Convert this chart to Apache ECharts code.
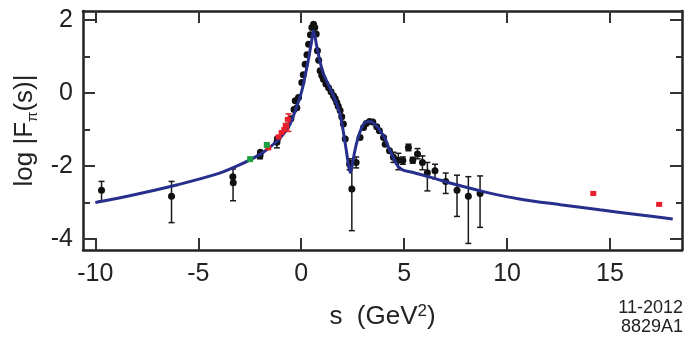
<!DOCTYPE html>
<html>
<head>
<meta charset="utf-8">
<script src="https://cdn.jsdelivr.net/npm/echarts/dist/echarts.min.js"></script>
<style>
  html, body { margin: 0; padding: 0; background: #fff; }
  #chart { width: 687px; height: 346px; }
</style>
</head>
<body>
<div id="chart"></div>
<script>
// tick values
var xTicks = [-10, -5, 0, 5, 10, 15];
var yMajor = [-4, -2, 0, 2];
var yMinor = [-3, -1, 1];

// model curve [s, log|F|]
var curve = [
  [-10, -3.0], [-8, -2.77], [-6, -2.51], [-4, -2.2], [-3, -1.97], [-2, -1.68],
  [-1.5, -1.47], [-1, -1.22], [-0.55, -0.86], [-0.3, -0.5], [0, 0.0], [0.2, 0.5],
  [0.36, 0.95], [0.5, 1.4], [0.6, 1.7], [0.75, 1.3], [0.92, 0.85], [1.1, 0.5],
  [1.33, 0.22], [1.55, -0.05], [1.73, -0.3], [1.9, -0.62], [2.0, -0.9], [2.1, -1.25],
  [2.2, -1.6], [2.3, -1.98], [2.38, -2.17], [2.47, -2.0], [2.6, -1.6], [2.75, -1.25],
  [2.9, -1.0], [3.05, -0.84], [3.25, -0.78], [3.45, -0.8], [3.65, -0.9], [3.85, -1.04],
  [4.05, -1.22], [4.25, -1.49], [4.5, -1.8], [4.72, -2.02], [4.95, -2.11], [5.4, -2.17],
  [6.3, -2.31], [7.6, -2.52], [9, -2.72], [10.6, -2.9], [12.6, -3.06], [14.5, -3.2],
  [16.5, -3.34], [18.05, -3.45]
];

// black data points [s, log|F|]
var blackPts = [
  [-9.7, -2.66], [-6.3, -2.83], [-3.32, -2.29], [-3.3, -2.46],
  [-2.0, -1.72], [-1.98, -1.62], [-1.18, -1.35], [-1.15, -1.25], [-0.7, -0.9],
  [-0.5, -0.7], [-0.35, -0.45], [-0.29, -0.21], [-0.21, -0.4], [-0.13, -0.12],
  [0.03, 0.29], [0.1, 0.5], [0.19, 0.79], [0.28, 1.05], [0.36, 1.34], [0.45, 1.6],
  [0.52, 1.8], [0.6, 1.89], [0.66, 1.8], [0.73, 1.62], [0.79, 1.16], [0.85, 0.9],
  [0.92, 0.61], [1.0, 0.48], [1.08, 0.38], [1.2, 0.25], [1.33, 0.15], [1.45, 0.04],
  [1.57, -0.07], [1.65, -0.15], [1.73, -0.26], [1.8, -0.36], [1.89, -0.48], [1.97, -0.65],
  [2.05, -0.85], [2.14, -1.26], [2.35, -1.95], [2.46, -2.63], [2.67, -1.9], [2.86, -1.22],
  [3.03, -0.94], [3.16, -0.83], [3.32, -0.78], [3.48, -0.79], [3.67, -0.92], [3.8, -1.03],
  [4.0, -1.22], [4.08, -1.4], [4.29, -1.58], [4.48, -1.76], [4.72, -1.84], [4.94, -1.85],
  [5.21, -1.49], [5.42, -1.84], [5.65, -1.67], [5.89, -1.9], [6.13, -2.18], [6.5, -2.13],
  [7.02, -2.42], [7.57, -2.66], [8.12, -2.83], [8.69, -2.75]
];

// error bars [s, low, high]
var blackErr = [
  [-9.7, -2.95, -2.42], [-6.3, -3.55, -2.42], [-3.31, -2.95, -2.08],
  [-2.0, -1.8, -1.6], [-1.18, -1.5, -1.22],
  [2.35, -2.1, -1.8], [2.46, -3.77, -1.85], [2.67, -2.05, -1.75],
  [4.48, -1.9, -1.62], [4.72, -2.1, -1.65], [4.94, -1.95, -1.75], [5.21, -1.58, -1.4],
  [5.42, -1.92, -1.76], [5.65, -1.8, -1.52], [5.89, -2.1, -1.72], [6.13, -2.68, -1.9],
  [6.5, -2.35, -1.95], [7.02, -2.75, -2.19], [7.57, -3.38, -2.25], [8.12, -4.12, -2.29],
  [8.69, -3.68, -2.27]
];

var redPts = [
  [-1.6, -1.5], [-1.1, -1.2], [-0.95, -1.08], [-0.82, -1.0], [-0.75, -0.88], [-0.65, -0.72],
  [14.19, -2.75], [17.39, -3.05]
];
var redErr = [[-0.62, -1.05, -0.57]];
var greenPts = [[-2.48, -1.81], [-1.67, -1.42]];

var font = "'Liberation Sans', Arial, Helvetica, sans-serif";
var axisColor = '#222';

function errorBars(color) {
  return function (params, api) {
    var top = api.coord([api.value(0), api.value(2)]);
    var bot = api.coord([api.value(0), api.value(1)]);
    var w = 3;
    var st = { stroke: color, lineWidth: 1.5 };
    return {
      type: 'group',
      children: [
        { type: 'line', shape: { x1: top[0], y1: top[1], x2: bot[0], y2: bot[1] }, style: st },
        { type: 'line', shape: { x1: top[0] - w, y1: top[1], x2: top[0] + w, y2: top[1] }, style: st },
        { type: 'line', shape: { x1: bot[0] - w, y1: bot[1], x2: bot[0] + w, y2: bot[1] }, style: st }
      ]
    };
  };
}

function yAx(pos, ticks, len, showLine, showLabel, extra) {
  var a = {
    type: 'value', min: -4.3, max: 2.25, position: pos,
    axisLine: { show: showLine, onZero: false, lineStyle: { color: axisColor, width: 2.5 } },
    axisTick: { show: true, inside: true, length: len, customValues: ticks,
      lineStyle: { color: '#333', width: 2 } },
    axisLabel: { show: showLabel, customValues: ticks, fontSize: 25, color: '#222',
      fontFamily: font, margin: 10 },
    splitLine: { show: false }
  };
  return Object.assign(a, extra || {});
}

var chart = echarts.init(document.getElementById('chart'));
chart.setOption({
  animation: false,
  grid: { left: 83, right: 5, top: 11, bottom: 96 },
  xAxis: [
    {
      type: 'value', min: -10.6, max: 18.5, position: 'bottom',
      axisLine: { show: true, onZero: false, lineStyle: { color: axisColor, width: 2.5 } },
      axisTick: { inside: true, length: 12, customValues: xTicks, lineStyle: { color: '#333', width: 2 } },
      axisLabel: { customValues: xTicks, fontSize: 25, color: '#222', fontFamily: font, margin: 12 },
      splitLine: { show: false },
      name: 's  (GeV{sup|2})',
      nameLocation: 'middle',
      nameGap: 53,
      nameTextStyle: {
        fontSize: 26, color: '#222', fontFamily: font, lineHeight: 28,
        rich: { sup: { fontSize: 17, fontFamily: font, color: '#222', lineHeight: 16, verticalAlign: 'top' } }
      }
    },
    {
      type: 'value', min: -10.6, max: 18.5, position: 'top',
      axisLine: { show: true, onZero: false, lineStyle: { color: axisColor, width: 2.5 } },
      axisTick: { inside: true, length: 12, customValues: xTicks, lineStyle: { color: '#333', width: 2 } },
      axisLabel: { show: false },
      splitLine: { show: false }
    }
  ],
  yAxis: [
    yAx('left', yMajor, 12, true, true, {
      name: 'log |F{sub|π}(s)|',
      nameLocation: 'middle',
      nameGap: 36,
      nameRotate: 90,
      nameTextStyle: {
        fontSize: 26, color: '#222', fontFamily: font, lineHeight: 30,
        rich: { sub: { fontSize: 15, fontFamily: font, color: '#222', lineHeight: 14, verticalAlign: 'bottom' } }
      }
    }),
    yAx('left', yMinor, 7, false, false),
    yAx('right', yMajor, 12, true, false),
    yAx('right', yMinor, 6, false, false)
  ],
  graphic: [
    { type: 'text', right: 4, top: 299, style: { text: '11-2012', font: '18px ' + font, fill: '#222', textAlign: 'right' } },
    { type: 'text', right: 4, top: 318, style: { text: '8829A1', font: '18px ' + font, fill: '#222', textAlign: 'right' } }
  ],
  series: [
    {
      type: 'custom', renderItem: errorBars('#1a1a1a'), data: blackErr,
      encode: { x: 0, y: [1, 2] }, z: 2
    },
    {
      type: 'scatter', data: blackPts, symbol: 'circle', symbolSize: 7,
      itemStyle: { color: '#111', opacity: 1 }, z: 3
    },
    {
      type: 'line', data: curve, smooth: 0.35, showSymbol: false,
      lineStyle: { color: '#26308c', width: 3 }, z: 4
    },
    {
      type: 'custom', renderItem: errorBars('#e8202a'), data: redErr,
      encode: { x: 0, y: [1, 2] }, z: 5
    },
    {
      type: 'scatter', data: redPts, symbol: 'rect', symbolSize: [6, 5],
      itemStyle: { color: '#e8202a', opacity: 1 }, z: 5
    },
    {
      type: 'scatter', data: greenPts, symbol: 'rect', symbolSize: [6, 6],
      itemStyle: { color: '#1aa040', opacity: 1 }, z: 5
    }
  ]
});
</script>
</body>
</html>
